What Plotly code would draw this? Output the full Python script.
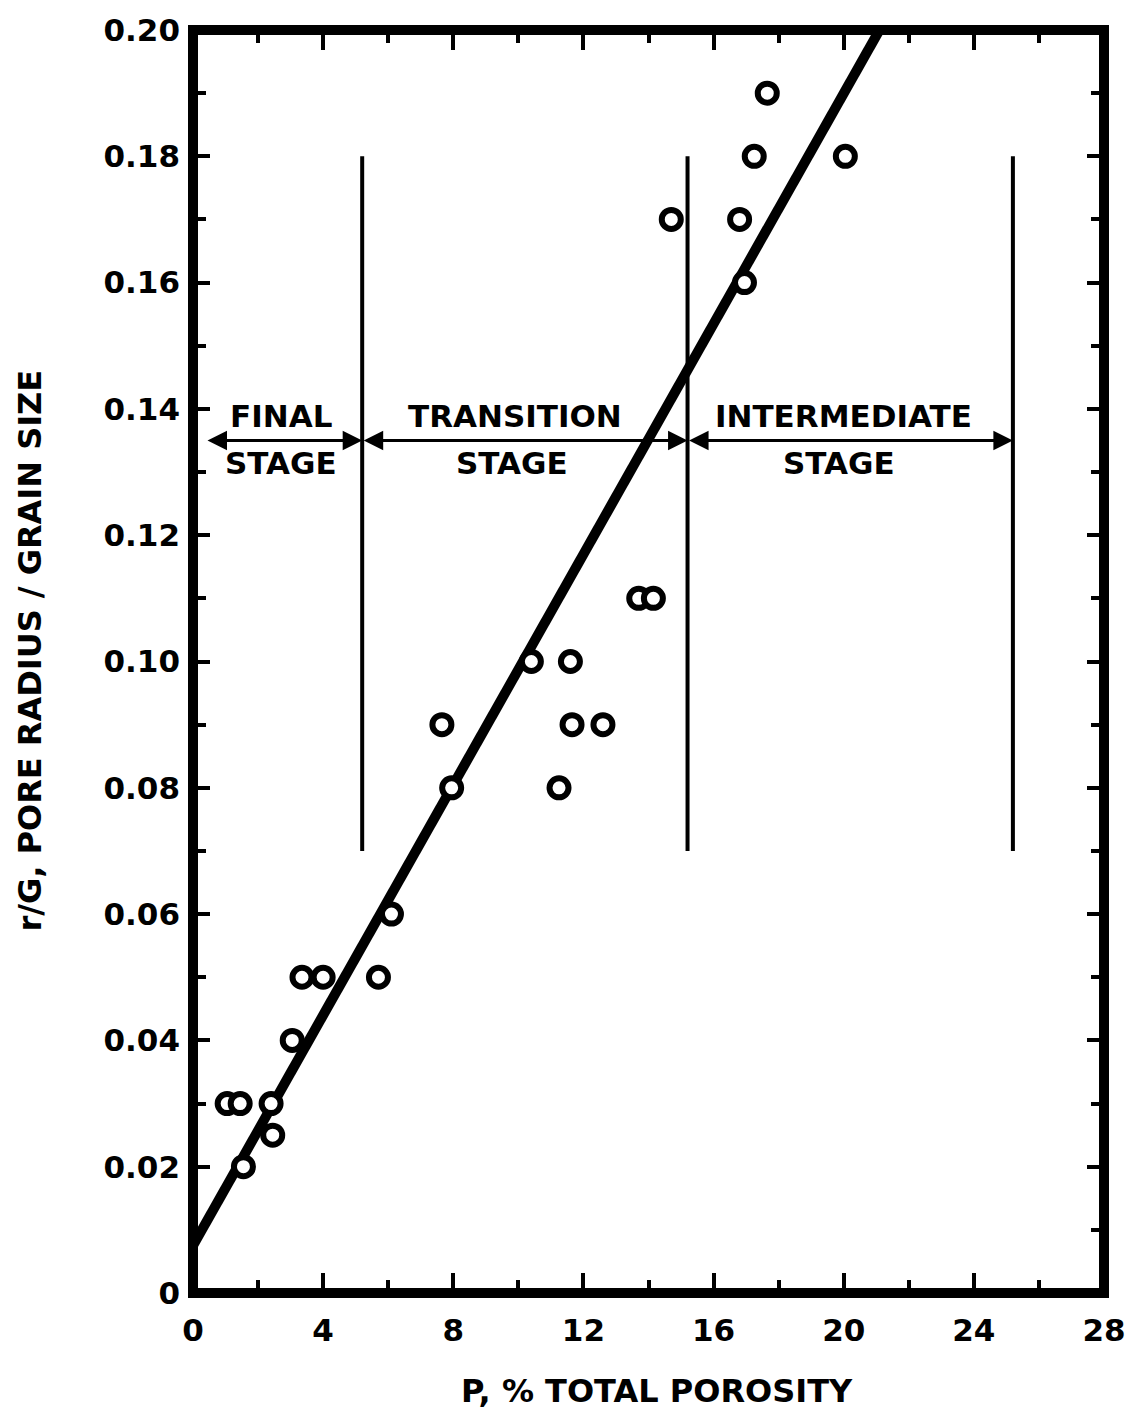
import plotly.graph_objects as go

# ---- data ----
porosity = [1.05, 1.45, 1.55, 2.4, 2.45, 3.05, 3.35, 4.0, 5.7, 6.1,
            7.65, 7.95, 10.4, 11.6, 11.65, 11.25, 12.6, 13.7, 14.15,
            14.7, 16.8, 16.95, 17.25, 17.65, 20.05]
pore_ratio = [0.03, 0.03, 0.02, 0.03, 0.025, 0.04, 0.05, 0.05, 0.05, 0.06,
              0.09, 0.08, 0.10, 0.10, 0.09, 0.08, 0.09, 0.11, 0.11,
              0.17, 0.17, 0.16, 0.18, 0.19, 0.18]

fit_x = [0.0, 21.1]
fit_y = [0.0075, 0.20]

stage_bounds = [5.2, 15.2, 25.2]
stage_line_y = [0.07, 0.18]
arrow_y = 0.135
final_start = 0.4

stage_names = ["FINAL", "TRANSITION", "INTERMEDIATE"]
stage_label_x = [2.7, 9.9, 20.0]
stage_sub_x = [2.7, 9.8, 19.85]
stage_label_y = 0.1388
stage_sub_y = 0.1314

x_tickvals = [0, 4, 8, 12, 16, 20, 24, 28]
x_ticktext = ["0", "4", "8", "12", "16", "20", "24", "28"]
y_tickvals = [0, 0.02, 0.04, 0.06, 0.08, 0.10, 0.12, 0.14, 0.16, 0.18, 0.20]
y_ticktext = ["0", "0.02", "0.04", "0.06", "0.08", "0.10", "0.12", "0.14",
              "0.16", "0.18", "0.20"]

FONT = "DejaVu Sans"
fig = go.Figure()

# fitted line
fig.add_trace(go.Scatter(x=fit_x, y=fit_y, mode="lines",
                         line=dict(color="black", width=10),
                         showlegend=False, hoverinfo="skip"))
# data points
fig.add_trace(go.Scatter(x=porosity, y=pore_ratio, mode="markers",
                         marker=dict(symbol="circle", size=19, color="white",
                                     line=dict(color="black", width=6)),
                         showlegend=False))

shapes = []
# stage boundary lines
for b in stage_bounds:
    shapes.append(dict(type="line", xref="x", yref="y", x0=b, x1=b,
                       y0=stage_line_y[0], y1=stage_line_y[1],
                       line=dict(color="black", width=4)))
# frame
shapes.append(dict(type="rect", xref="paper", yref="paper", x0=0, x1=1, y0=0, y1=1,
                   line=dict(color="black", width=10), layer="above"))

annotations = []
# double-headed arrows
seg_starts = [final_start] + stage_bounds[:-1]
seg_ends = stage_bounds
for s, e in zip(seg_starts, seg_ends):
    annotations.append(dict(x=e, y=arrow_y, ax=s, ay=arrow_y, xref="x", yref="y",
                            axref="x", ayref="y", text="", showarrow=True,
                            arrowhead=2, startarrowhead=2, arrowside="end+start",
                            arrowsize=1.3, startarrowsize=1.3, arrowwidth=3,
                            arrowcolor="black"))
# stage labels
for name, lx, sx in zip(stage_names, stage_label_x, stage_sub_x):
    annotations.append(dict(x=lx, y=stage_label_y, xref="x", yref="y", text=name,
                            showarrow=False, xanchor="center", yanchor="middle",
                            font=dict(family=FONT, size=31, color="black",
                                      weight="bold")))
    annotations.append(dict(x=sx, y=stage_sub_y, xref="x", yref="y", text="STAGE",
                            showarrow=False, xanchor="center", yanchor="middle",
                            font=dict(family=FONT, size=31, color="black",
                                      weight="bold")))

W, H = 1140, 1413
L, R, T, B = 193, 36, 25, 120
pw, ph = W - L - R, H - T - B
# axis titles (positioned in pixels, converted to paper)
annotations.append(dict(x=(657 - L) / pw, y=(H - 1391 - B) / ph, xref="paper",
                        yref="paper", text="P, % TOTAL POROSITY", showarrow=False,
                        xanchor="center", yanchor="middle",
                        font=dict(family=FONT, size=32, color="black", weight="bold")))
annotations.append(dict(x=(30 - L) / pw, y=(H - 648 - B) / ph, xref="paper",
                        yref="paper", text="r/G, PORE RADIUS / GRAIN SIZE",
                        showarrow=False, textangle=-90,
                        xanchor="center", yanchor="middle",
                        font=dict(family=FONT, size=32, color="black", weight="bold")))

tickfont = dict(family=FONT, size=31, color="black", weight="bold")

fig.update_layout(
    width=W, height=H,
    margin=dict(l=L, r=R, t=T, b=B),
    paper_bgcolor="white", plot_bgcolor="white",
    shapes=shapes, annotations=annotations,
    xaxis=dict(range=[0, 28], tickvals=x_tickvals, ticktext=x_ticktext,
               ticks="inside", ticklen=20, tickwidth=4, tickcolor="black",
               mirror="allticks", showgrid=False, zeroline=False, showline=False,
               ticklabelstandoff=16, tickfont=tickfont,
               minor=dict(tickvals=[2, 6, 10, 14, 18, 22, 26], ticks="inside",
                          ticklen=13, tickwidth=4, tickcolor="black", showgrid=False)),
    yaxis=dict(range=[0, 0.20], tickvals=y_tickvals, ticktext=y_ticktext,
               ticks="inside", ticklen=17, tickwidth=4, tickcolor="black",
               mirror="allticks", showgrid=False, zeroline=False, showline=False,
               ticklabelstandoff=12, tickfont=tickfont,
               minor=dict(tickvals=[0.01, 0.03, 0.05, 0.07, 0.09, 0.11, 0.13,
                                    0.15, 0.17, 0.19],
                          ticks="inside", ticklen=13, tickwidth=4,
                          tickcolor="black", showgrid=False)),
    xaxis2=dict(overlaying="x", anchor="y", side="bottom", range=[0, 28],
                tickvals=x_tickvals, ticks="outside", ticklen=11, tickwidth=4,
                tickcolor="black", showticklabels=False, showgrid=False,
                zeroline=False, showline=False),
    yaxis2=dict(overlaying="y", anchor="x", side="left", range=[0, 0.20],
                tickvals=y_tickvals, ticks="outside", ticklen=10, tickwidth=4,
                tickcolor="black", showticklabels=False, showgrid=False,
                zeroline=False, showline=False),
)

fig.write_html("out.html")
